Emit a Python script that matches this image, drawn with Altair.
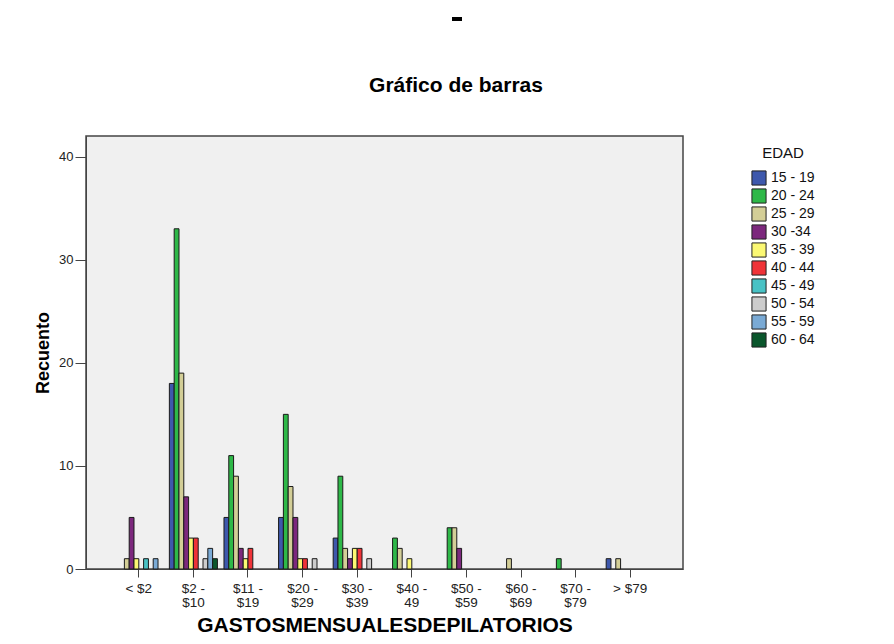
import altair as alt
import pandas as pd

# ---- data ----
categories = ["< $2", "$2 - $10", "$11 - $19", "$20 - $29", "$30 - $39",
              "$40 - 49", "$50 - $59", "$60 - $69", "$70 - $79", "> $79"]
ages = ["15 - 19", "20 - 24", "25 - 29", "30 -34", "35 - 39",
        "40 - 44", "45 - 49", "50 - 54", "55 - 59", "60 - 64"]
colors = ["#3e58ac", "#2eb848", "#d3ce97", "#7c287d", "#fbf873",
          "#ef3338", "#48c2c5", "#cccccc", "#7aaad5", "#0a562c"]

c_15_19 = [0, 18, 5, 5, 3, 0, 0, 0, 0, 1]
c_20_24 = [0, 33, 11, 15, 9, 3, 4, 0, 1, 0]
c_25_29 = [1, 19, 9, 8, 2, 2, 4, 1, 0, 1]
c_30_34 = [5, 7, 2, 5, 1, 0, 2, 0, 0, 0]
c_35_39 = [1, 3, 1, 1, 2, 1, 0, 0, 0, 0]
c_40_44 = [0, 3, 2, 1, 2, 0, 0, 0, 0, 0]
c_45_49 = [1, 0, 0, 0, 0, 0, 0, 0, 0, 0]
c_50_54 = [0, 1, 0, 1, 1, 0, 0, 0, 0, 0]
c_55_59 = [1, 2, 0, 0, 0, 0, 0, 0, 0, 0]
c_60_64 = [0, 1, 0, 0, 0, 0, 0, 0, 0, 0]
series = [c_15_19, c_20_24, c_25_29, c_30_34, c_35_39,
          c_40_44, c_45_49, c_50_54, c_55_59, c_60_64]

chart_title = "Gráfico de barras"

rows = []
for age, vals in zip(ages, series):
    for cat, v in zip(categories, vals):
        if v > 0:
            rows.append({"gasto": cat, "edad": age, "n": v})
df = pd.DataFrame(rows)

FONT = "Liberation Sans"

label_expr = ("indexof(datum.value, ' - ') > 0 ? "
              "[split(datum.value, ' - ')[0] + ' -', split(datum.value, ' - ')[1]] : datum.value")

bars = alt.Chart(df).mark_bar(stroke="#1a1a1a", strokeWidth=1).encode(
    x=alt.X(
        "gasto:N",
        scale=alt.Scale(domain=categories, paddingInner=0.12, paddingOuter=0.527),
        axis=alt.Axis(
            title="GASTOSMENSUALESDEPILATORIOS", labelAngle=0, labelExpr=label_expr,
            tickSize=8, labelPadding=4, labelFontSize=13.5, labelLineHeight=14,
            labelFont=FONT, labelColor="#222", titleFont=FONT, titleFontSize=21,
            titleFontWeight="bold", titleColor="#000", titlePadding=6,
            domainColor="#444", tickColor="#444", labelBaseline="top",
        ),
    ),
    xOffset=alt.XOffset("edad:N", scale=alt.Scale(domain=ages, paddingInner=0, paddingOuter=0)),
    y=alt.Y(
        "n:Q",
        scale=alt.Scale(domain=[0, 42], nice=False, zero=True),
        axis=alt.Axis(
            values=[0, 10, 20, 30, 40], title="Recuento", grid=False,
            tickSize=11, labelPadding=2, labelFontSize=13, labelFont=FONT,
            labelColor="#222", titleFont=FONT, titleFontSize=18, titleFontWeight="bold",
            titleColor="#000", titlePadding=6, domainColor="#444", tickColor="#444",
        ),
    ),
    color=alt.Color(
        "edad:N",
        scale=alt.Scale(domain=ages, range=colors),
        legend=alt.Legend(
            title="EDAD", orient="none", legendX=665, legendY=10, padding=0,
            titleFont=FONT, titleFontSize=15, titleFontWeight="normal", titleColor="#111",
            titleAnchor="middle", titlePadding=9,
            labelFont=FONT, labelFontSize=14, labelColor="#111", labelOffset=4,
            symbolType="square", symbolSize=200, symbolStrokeColor="#222",
            symbolStrokeWidth=1, symbolOpacity=1, rowPadding=-2,
        ),
    ),
)

# chart title drawn as a text layer
title_layer = alt.Chart(pd.DataFrame({"t": [chart_title]})).mark_text(
    font=FONT, fontSize=21, fontWeight="bold", color="#000", align="center", baseline="middle"
).encode(text="t:N", x=alt.value(370), y=alt.value(-50))

# small stray mark from the original export
artifacts = alt.Chart(pd.DataFrame({"k": [0]})).mark_rule(color="#000", strokeWidth=4).encode(
    x=alt.value(366), x2=alt.value(376), y=alt.value(-117)
)

chart = alt.layer(bars, title_layer, artifacts).properties(
    width=597,
    height=433,
    autosize=alt.AutoSizeParams(type="none"),
    padding={"left": 78, "top": 128, "right": 190, "bottom": 67},
).configure(
    background="white"
).configure_view(
    fill="#f0f0f0", stroke="#444", strokeWidth=1.5
)

chart.save("out.html", embed_options={"renderer": "svg", "actions": False})
